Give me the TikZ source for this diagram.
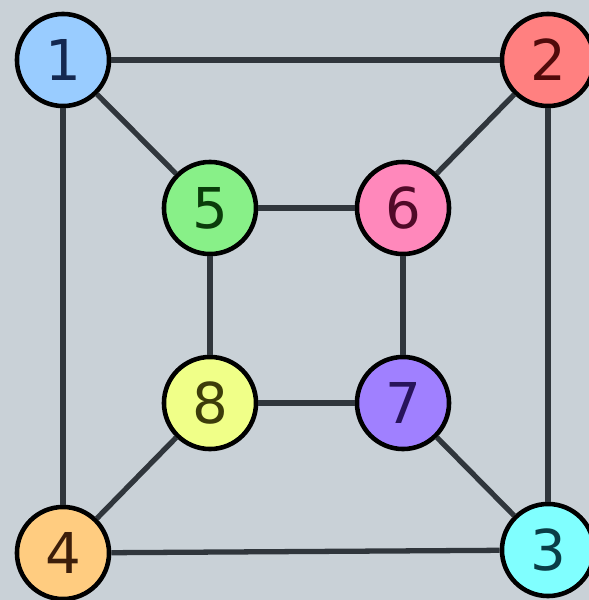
\documentclass[tikz,border=0pt]{standalone}
\usepackage{fontspec}
\setmainfont{DejaVu Sans}
\definecolor{bg}{HTML}{C9D1D7}
\definecolor{edgecol}{HTML}{30363C}
\begin{document}
\begin{tikzpicture}[
        x=0.01cm, y=-0.01cm,
        vertex/.style={circle, draw=black, line width=1.3pt, minimum size=0.92cm,
          inner sep=0pt, font=\fontsize{16}{18}\selectfont},
        edge/.style={draw=edgecol, line width=1.5pt}
      ]

      \fill[bg] (0,0) rectangle (589,600);
      \useasboundingbox (0,0) rectangle (589,600);

      \node[vertex, fill={rgb,255:red,153;green,204;blue,255}, text={rgb,255:red,20;green,40;blue,80}] (n1) at (63,60) {1};
      \node[vertex, fill={rgb,255:red,255;green,128;blue,128}, text={rgb,255:red,80;green,10;blue,10}] (n2) at (548,60) {2};
      \node[vertex, fill={rgb,255:red,128;green,255;blue,255}, text={rgb,255:red,10;green,60;blue,70}] (n3) at (548,550) {3};
      \node[vertex, fill={rgb,255:red,255;green,204;blue,128}, text={rgb,255:red,60;green,30;blue,10}] (n4) at (63,553) {4};
      \node[vertex, fill={rgb,255:red,136;green,240;blue,136}, text={rgb,255:red,10;green,60;blue,10}] (n5) at (210,208) {5};
      \node[vertex, fill={rgb,255:red,255;green,136;blue,187}, text={rgb,255:red,80;green,10;blue,40}] (n6) at (403,208) {6};
      \node[vertex, fill={rgb,255:red,160;green,128;blue,255}, text={rgb,255:red,40;green,20;blue,90}] (n7) at (403,403) {7};
      \node[vertex, fill={rgb,255:red,240;green,255;blue,136}, text={rgb,255:red,60;green,60;blue,10}] (n8) at (210,403) {8};

      \foreach \a/\b in {1/2, 2/3, 3/4, 4/1, 5/6, 6/7, 7/8, 8/5, 1/5, 2/6, 3/7, 4/8}
        \draw[edge] (n\a) -- (n\b);
    \end{tikzpicture}
\end{document}
